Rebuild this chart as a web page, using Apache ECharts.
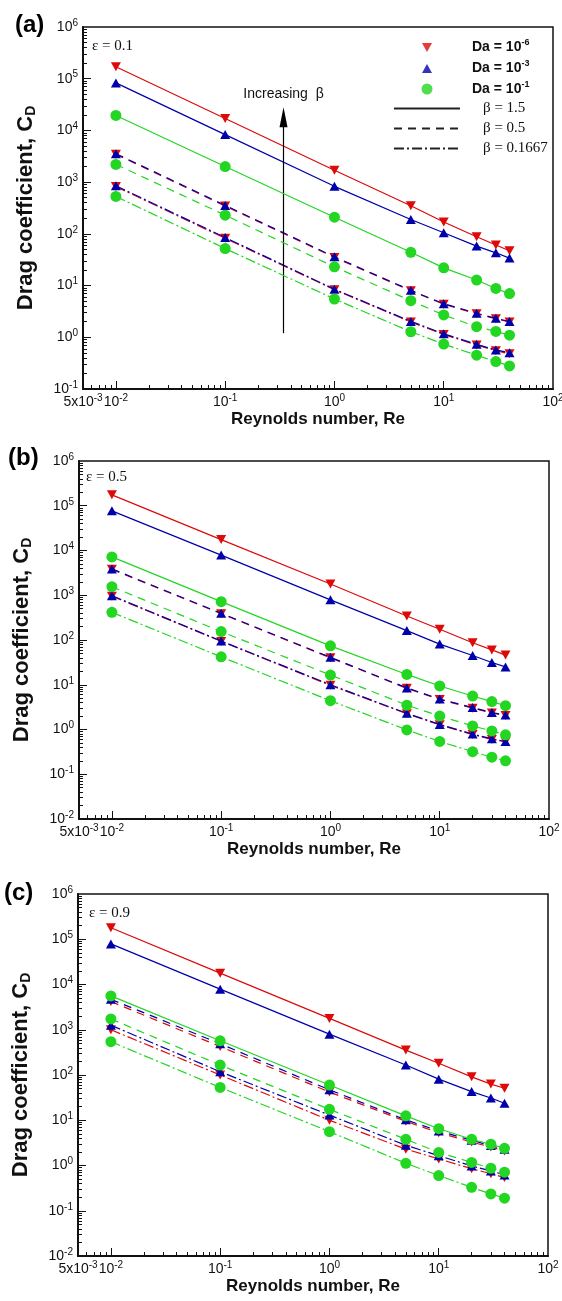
<!DOCTYPE html>
<html><head><meta charset="utf-8">
<script src="https://cdn.jsdelivr.net/npm/echarts@6/dist/echarts.min.js"></script>
<style>html,body{margin:0;padding:0;background:#fff}#c{width:562px;height:1301px}</style>
</head><body><div id="c"></div>
<script>
// Reynolds numbers (x)
const Re = [0.01, 0.1, 1, 5, 10, 20, 30, 40];
// Panel (a) eps = 0.1
const a_red_s   = [1.7e5, 1.7e4, 1700, 350, 170, 88, 61, 47];
const a_blue_s  = [8.3e4, 8300, 830, 190, 105, 58, 43, 34];
const a_green_s = [1.95e4, 2000, 210, 44, 22, 12.8, 8.8, 7];
const a_red_d   = [3450, 345, 35, 7.9, 4.35, 2.85, 2.28, 1.97];
const a_blue_d  = [3550, 355, 36, 8.1, 4.45, 2.92, 2.33, 2.02];
const a_green_d = [2200, 230, 23, 5.1, 2.7, 1.6, 1.3, 1.1];
const a_red_dd  = [820, 82, 8.3, 1.97, 1.13, 0.71, 0.55, 0.48];
const a_blue_dd = [850, 85, 8.5, 2.03, 1.17, 0.73, 0.57, 0.5];
const a_green_dd= [530, 52, 5.5, 1.28, 0.74, 0.45, 0.34, 0.28];
// Panel (b) eps = 0.5
const b_red_s   = [1.75e5, 1.75e4, 1780, 345, 174, 87, 60, 46];
const b_blue_s  = [7.7e4, 7900, 790, 162, 81, 45, 31.5, 25];
const b_green_s = [7200, 720, 74, 17, 9.4, 5.6, 4.2, 3.4];
const b_red_d   = [3800, 385, 40, 8.3, 4.7, 3.0, 2.35, 2.05];
const b_blue_d  = [3880, 395, 41, 8.5, 4.8, 3.1, 2.4, 2.1];
const b_green_d = [1550, 154, 16.5, 3.5, 2.0, 1.2, 0.93, 0.76];
const b_red_dd  = [950, 93, 9.7, 2.25, 1.27, 0.77, 0.6, 0.53];
const b_blue_dd = [980, 95, 10, 2.3, 1.3, 0.79, 0.62, 0.54];
const b_green_dd= [415, 42, 4.4, 0.98, 0.54, 0.32, 0.24, 0.2];
// Panel (c) eps = 0.9
const c_red_s   = [1.8e5, 1.78e4, 1780, 355, 182, 91, 63, 51];
const c_blue_s  = [7.9e4, 7900, 800, 166, 81, 43, 31, 23.7];
const c_green_s = [5600, 570, 60, 12.5, 6.5, 3.8, 2.95, 2.4];
const c_red_d   = [4200, 425, 42, 9.5, 5.3, 3.3, 2.55, 2.1];
const c_blue_d  = [4700, 490, 47, 10.2, 5.8, 3.6, 2.75, 2.3];
const c_green_d = [1730, 166, 17.4, 3.8, 1.95, 1.17, 0.87, 0.71];
const c_red_dd  = [1000, 100, 10, 2.3, 1.4, 0.85, 0.66, 0.54];
const c_blue_dd = [1260, 118, 13, 2.8, 1.65, 0.98, 0.76, 0.62];
const c_green_dd= [545, 53, 5.6, 1.12, 0.6, 0.33, 0.235, 0.19];

const panelLetters = ['(a)', '(b)', '(c)'];
const epsLabels = ['ε = 0.1', 'ε = 0.5', 'ε = 0.9'];
const yMins = [0.1, 0.01, 0.01];
const xLabelValues = [0.0050001, 0.01, 0.1, 1, 10, 99.999];

const SANS = "'Liberation Sans', Arial, sans-serif";
const SERIF = "'Liberation Serif', 'Times New Roman', serif";
const RED = '#dd0a0a', BLUE = '#0000aa', GREEN = '#22d622';
const DASH = [8, 6], DASHDOT = [10, 3, 2, 3];

const gridPos = [
  {left: 83, top: 27, width: 470, height: 362},
  {left: 79, top: 461, width: 470, height: 358},
  {left: 78, top: 894, width: 470, height: 362}
];

function decadesMajor(lo, hi) { const r = []; for (let e = lo; e <= hi; e++) r.push(Math.pow(10, e)); return r; }
function decadesMinor(lo, hi) { const r = []; for (let e = lo; e < hi; e++) for (let k = 2; k <= 9; k++) r.push(k * Math.pow(10, e)); return r; }

const tickRich = {
  b: {fontSize: 14, fontFamily: SANS, color: '#111', lineHeight: 18},
  s: {fontSize: 10, fontFamily: SANS, color: '#111', lineHeight: 10, verticalAlign: 'top'}
};
function fmtY(v) { const e = Math.round(Math.log10(v)); return '{b|10}{s|' + e + '}'; }
function fmtX(v) { if (v < 0.0075) return '{b|5x10}{s|-3}'; const e = Math.round(Math.log10(v)); return '{b|10}{s|' + e + '}'; }

const xAxis = [], yAxis = [], grid = [], series = [], graphic = [];
gridPos.forEach((gp, g) => {
  grid.push(Object.assign({show: true, borderColor: '#111', borderWidth: 1.5, containLabel: false, outerBoundsMode: 'none'}, gp));
  const ylo = Math.round(Math.log10(yMins[g]));
  const yLabelValues = decadesMajor(ylo, 6).map((v, i, arr) => i === 0 ? v * 1.0001 : (i === arr.length - 1 ? v * 0.9999 : v));
  xAxis.push({
    type: 'log', logBase: 10, gridIndex: g, min: 0.005, max: 100, position: 'bottom',
    axisLine: {show: true, onZero: false, lineStyle: {color: '#111', width: 2}},
    axisTick: {show: true, inside: true, length: 8, lineStyle: {color: '#111', width: 1}, customValues: decadesMajor(-2, 1)},
    axisLabel: {show: true, customValues: xLabelValues, formatter: fmtX, margin: 4, rich: tickRich, hideOverlap: false, showMinLabel: true, showMaxLabel: true},
    splitLine: {show: false}, minorTick: {show: false},
    name: '{t|Reynolds number, Re}', nameLocation: 'middle', nameGap: 20, nameMoveOverlap: false,
    nameTextStyle: {rich: {t: {fontSize: 17, fontWeight: 'bold', fontFamily: SANS, color: '#111', lineHeight: 20}}}
  });
  xAxis.push({
    type: 'log', logBase: 10, gridIndex: g, min: 0.005, max: 100, position: 'bottom',
    axisLine: {show: false},
    axisTick: {show: true, inside: true, length: 4, lineStyle: {color: '#111', width: 1}, customValues: decadesMinor(-3, 2).filter(v => v > 0.0055)},
    axisLabel: {show: false}, splitLine: {show: false}
  });
  yAxis.push({
    type: 'log', logBase: 10, gridIndex: g, min: yMins[g], max: 1e6, position: 'left',
    axisLine: {show: true, onZero: false, lineStyle: {color: '#111', width: 2}},
    axisTick: {show: true, inside: true, length: 8, lineStyle: {color: '#111', width: 1}, customValues: decadesMajor(ylo + 1, 5)},
    axisLabel: {show: true, customValues: yLabelValues, formatter: fmtY, margin: 5, rich: tickRich, hideOverlap: false, showMinLabel: true, showMaxLabel: true},
    splitLine: {show: false}, minorTick: {show: false},
    name: '{t|Drag coefficient, C}{s|D}', nameLocation: 'middle', nameGap: 45, nameRotate: 90, nameMoveOverlap: false,
    nameTextStyle: {rich: {
      t: {fontSize: 22, fontWeight: 'bold', fontFamily: SANS, color: '#111', lineHeight: 25},
      s: {fontSize: 14, fontWeight: 'bold', fontFamily: SANS, color: '#111', lineHeight: 14, verticalAlign: 'bottom'}
    }}
  });
  yAxis.push({
    type: 'log', logBase: 10, gridIndex: g, min: yMins[g], max: 1e6, position: 'left',
    axisLine: {show: false},
    axisTick: {show: true, inside: true, length: 4, lineStyle: {color: '#111', width: 1}, customValues: decadesMinor(ylo, 6)},
    axisLabel: {show: false}, splitLine: {show: false}
  });
  graphic.push({type: 'text', x: [15, 8, 4][g], y: [25, 458, 893][g], style: {text: panelLetters[g], fontSize: 24, fontWeight: 'bold', fontFamily: SANS, fill: '#000', verticalAlign: 'middle'}});
  graphic.push({type: 'text', x: [92, 86, 89][g], y: [46, 477, 913][g], style: {text: epsLabels[g], fontSize: 15, fontFamily: SERIF, fill: '#111', verticalAlign: 'middle'}});
});

function ser(g, vals, color, sym, rot, dash, z) {
  return {
    type: 'line', xAxisIndex: 2 * g, yAxisIndex: 2 * g,
    data: Re.map((x, i) => [x, vals[i]]),
    symbol: sym, symbolSize: sym === 'circle' ? 11 : [10, 9], symbolRotate: rot, showSymbol: true,
    lineStyle: {color: color, width: 1.2, type: dash}, itemStyle: {color: color},
    z: z, silent: true, animation: false, emphasis: {disabled: true}
  };
}
const panels = [
  [a_red_s, a_blue_s, a_green_s, a_red_d, a_blue_d, a_green_d, a_red_dd, a_blue_dd, a_green_dd],
  [b_red_s, b_blue_s, b_green_s, b_red_d, b_blue_d, b_green_d, b_red_dd, b_blue_dd, b_green_dd],
  [c_red_s, c_blue_s, c_green_s, c_red_d, c_blue_d, c_green_d, c_red_dd, c_blue_dd, c_green_dd]
];
const styles = ['solid', DASH, DASHDOT];
panels.forEach((arrs, g) => {
  for (let k = 0; k < 3; k++) {
    series.push(ser(g, arrs[3 * k], RED, 'triangle', 180, styles[k], 3));
    series.push(ser(g, arrs[3 * k + 1], BLUE, 'triangle', 0, styles[k], 4));
    series.push(ser(g, arrs[3 * k + 2], GREEN, 'circle', 0, styles[k], 5));
  }
});

// legend-only series
series.push({type: 'scatter', name: 'Da6', data: [], itemStyle: {color: RED}});
series.push({type: 'scatter', name: 'Da3', data: [], itemStyle: {color: BLUE}});
series.push({type: 'scatter', name: 'Da1', data: [], itemStyle: {color: GREEN}});
series.push({type: 'line', name: 'b15', data: [], symbol: 'none', lineStyle: {color: '#222', width: 1.2, type: 'solid'}});
series.push({type: 'line', name: 'b05', data: [], symbol: 'none', lineStyle: {color: '#222', width: 1.2, type: DASH}});
series.push({type: 'line', name: 'b01667', data: [], symbol: 'none', lineStyle: {color: '#222', width: 1.2, type: DASHDOT}});
// arrow "Increasing beta"
series.push({
  type: 'line', name: 'arrow', data: [], xAxisIndex: 0, yAxisIndex: 0,
  markLine: {
    silent: true, animation: false,
    symbol: ['none', 'path://M0,0L5,16L-5,16Z'], symbolSize: [1, 18],
    lineStyle: {color: '#000', width: 1.2, type: 'solid'},
    label: {show: true, position: 'end', formatter: 'Increasing  β', fontSize: 14, fontFamily: SANS, color: '#111', distance: 16},
    data: [[
      {coord: [0.342, 1.2], symbol: 'none'},
      {coord: [0.342, 1.8e4], symbol: 'path://M0,0L5,16L-5,16Z', symbolSize: [8, 20]}
    ]]
  }
});

const legendText = {
  Da6: '{da|Da = 10}{sup|-6}', Da3: '{da|Da = 10}{sup|-3}', Da1: '{da|Da = 10}{sup|-1}',
  b15: '{bt|β = 1.5}', b05: '{bt|β = 0.5}', b01667: '{bt|β = 0.1667}'
};
const hidden = {color: 'rgba(0,0,0,0)', borderWidth: 0};
const option = {
  animation: false,
  backgroundColor: '#fff',
  grid: grid, xAxis: xAxis, yAxis: yAxis, series: series, graphic: graphic,
  legend: {
    show: true, orient: 'vertical', left: 393, top: 38, padding: 0,
    itemWidth: 66, itemHeight: 14, itemGap: 5, selectedMode: false,
    data: [
      {name: 'Da6', icon: 'path://M0,0M14,14M2,3L12,3L7,12Z'},
      {name: 'Da3', icon: 'path://M0,0M14,14M2,12L12,12L7,3Z'},
      {name: 'Da1', icon: 'path://M0,0M14,14M1.5,7A5.5,5.5,0,1,1,12.5,7A5.5,5.5,0,1,1,1.5,7Z'},
      {name: 'b15', itemStyle: hidden},
      {name: 'b05', itemStyle: hidden},
      {name: 'b01667', itemStyle: hidden}
    ],
    formatter: n => legendText[n],
    textStyle: {rich: {
      da: {fontSize: 14, fontWeight: 'bold', fontFamily: SANS, color: '#111', lineHeight: 18, padding: [0, 0, 0, 7]},
      sup: {fontSize: 9, fontWeight: 'bold', fontFamily: SANS, color: '#111', lineHeight: 10, verticalAlign: 'top'},
      bt: {fontSize: 15, fontFamily: SERIF, color: '#111', lineHeight: 18, padding: [0, 0, 0, 18]}
    }}
  }
};
const chart = echarts.init(document.getElementById('c'), null, {renderer: 'canvas'});
chart.setOption(option);
</script></body></html>
